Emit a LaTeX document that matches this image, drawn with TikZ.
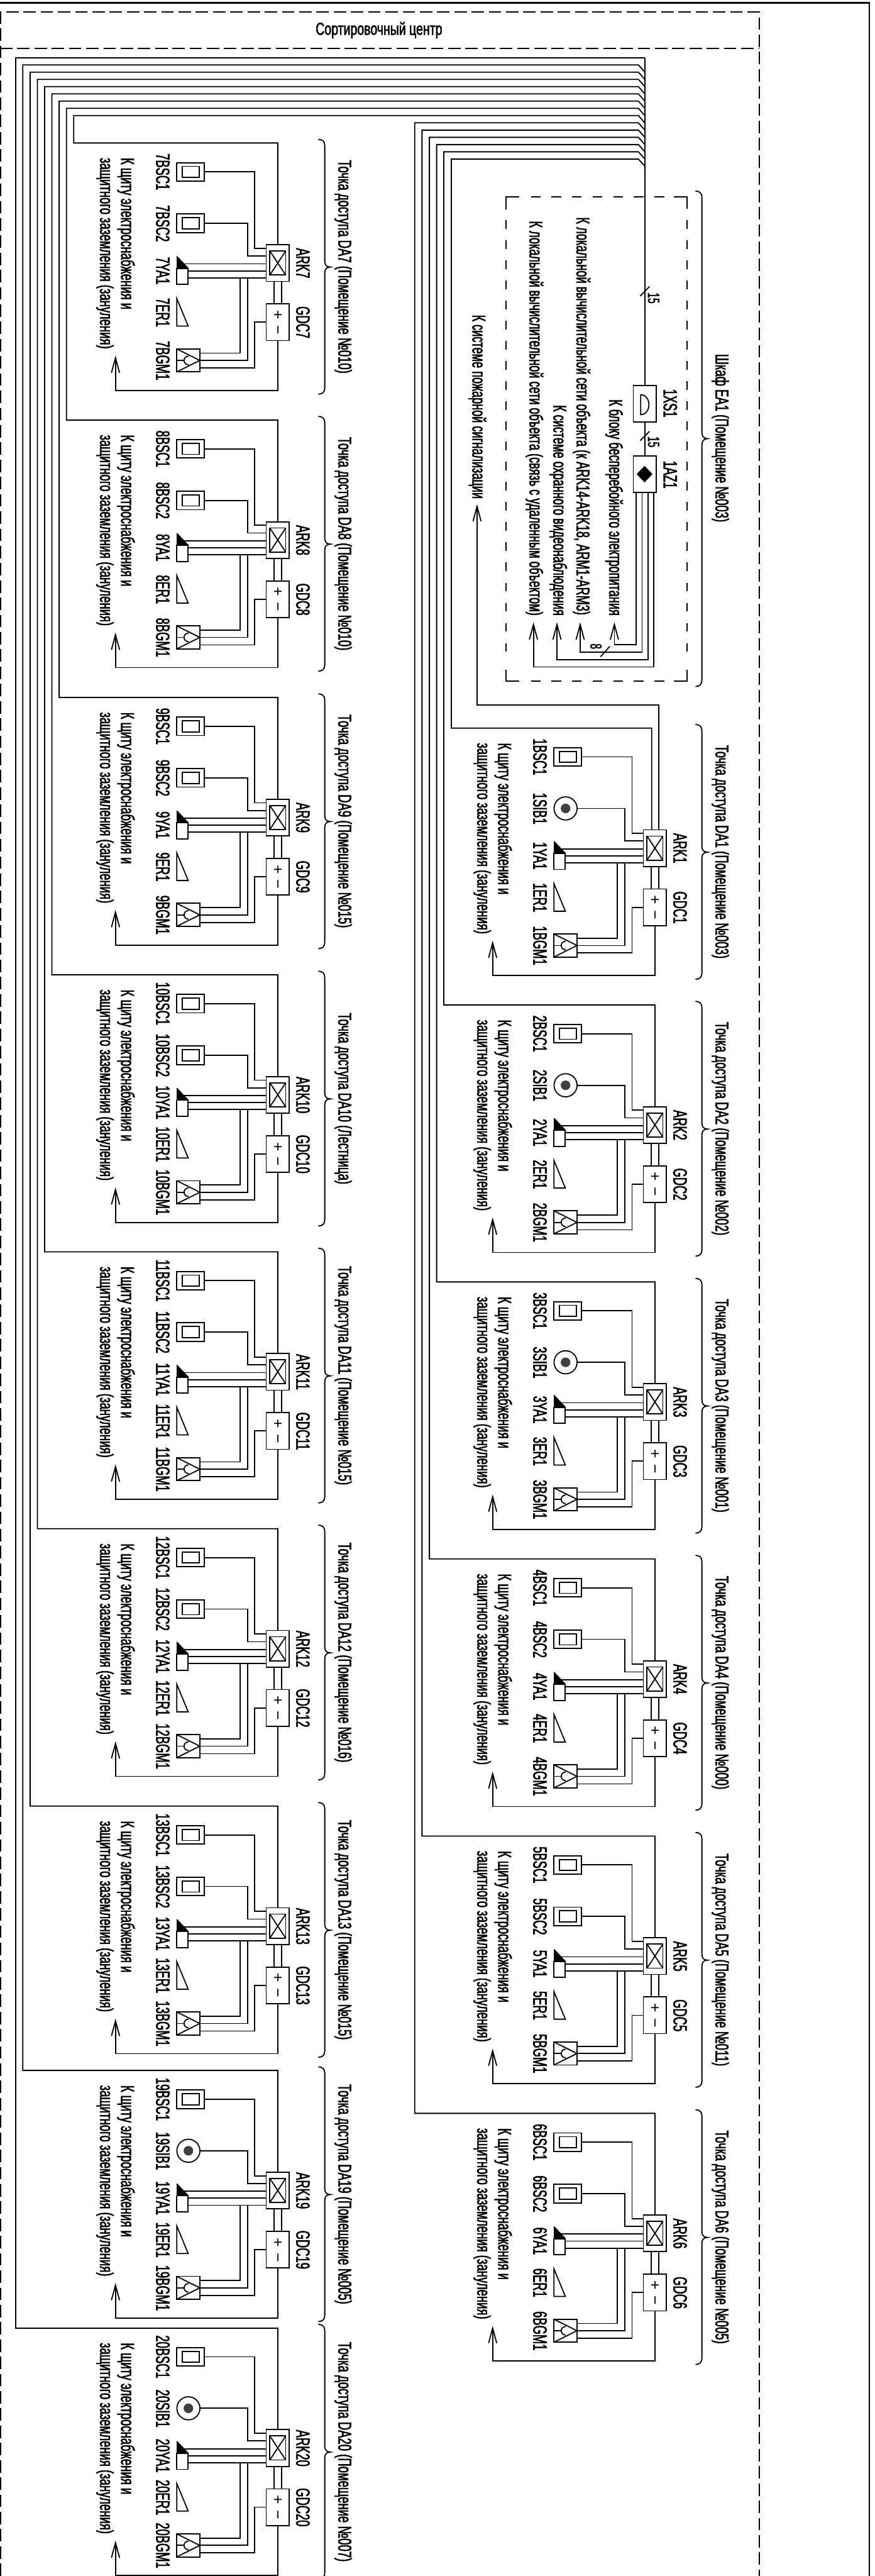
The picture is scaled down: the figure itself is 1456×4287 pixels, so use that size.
\documentclass[tikz,border=0pt]{standalone}
\usepackage{fontspec}
\setmainfont[FakeStretch=0.6,FakeBold=2]{Liberation Sans}
\newfontfamily\plainsans{Liberation Sans}
\newfontfamily\txtfam[FakeStretch=0.625,FakeBold=2]{Liberation Sans}
\newfontfamily\cabfam[FakeStretch=0.612,FakeBold=2]{Liberation Sans}
\newfontfamily\titlefam[FakeStretch=0.705,FakeBold=2]{Liberation Sans}
\usetikzlibrary{arrows.meta}
\newcommand\lblfont{\fontsize{32}{36}\selectfont}
\newcommand\txtfont{\txtfam\fontsize{31}{36}\selectfont}
\newcommand\cabfont{\cabfam\fontsize{31}{36}\selectfont}
\newcommand\signfont{\plainsans\fontsize{26}{30}\selectfont}
\tikzset{
  wire/.style={line width=1.9pt,line cap=butt,line join=miter},
  arrowwire/.style={wire,-{Straight Barb[length=25pt,width=13.5pt,line width=1.9pt]}},
  box/.style={draw,line width=1.9pt,rectangle,inner sep=0pt,outer sep=0pt},
  vlbl/.style={rotate=-90,anchor=base,inner sep=0pt,outer sep=0pt,font=\lblfont},
  vtxt/.style={rotate=-90,anchor=base west,inner sep=0pt,outer sep=0pt,font=\txtfont},
  vtxe/.style={rotate=-90,anchor=base east,inner sep=0pt,outer sep=0pt,font=\cabfont},
  sign/.style={rotate=-90,anchor=base,inner sep=0pt,outer sep=0pt,font=\signfont},
  frame/.style={line width=2.2pt},
  outerdash/.style={line width=2pt,dash pattern=on 20.7pt off 8pt},
  innerdash/.style={line width=1.9pt,dash pattern=on 16pt off 18.3pt},
  innerdashv/.style={line width=1.9pt,dash pattern=on 14pt off 19.5pt},
}
% #1 id, #2 number, #3 S (call point) or B (second contact), #4 dx, #5 wire y, #6 room
\newcommand\apblock[6]{%
\begin{scope}[shift={(#4,#5-238)}]
  \node[box,minimum width=38.4pt,minimum height=61pt] (#1ark) at (462.5,437.8) {};
  \node[box,minimum width=26.4pt,minimum height=40pt] (#1ari) at (462.5,437.7) {};
  \draw[wire] (#1ari.north west) -- (#1ari.south east) (#1ari.north east) -- (#1ari.south west);
  \node[box,minimum width=38.4pt,minimum height=61pt] (#1gdc) at (462.5,536.2) {};
  \node[sign] (#1plus) at (454,524) {+};
  \node[sign] (#1minus) at (454,549) {−};
  % ARK - GDC link
  \coordinate (#1la) at (456.7,468.3);
  \coordinate (#1lb) at (468.5,468.3);
  \draw[wire] (#1la) -- (#1la |- #1gdc.north);
  \draw[wire] (#1lb) -- (#1lb |- #1gdc.north);
  % ARK ports
  \coordinate (#1p1) at (443.3,413.3);
  \coordinate (#1p2) at (443.3,426);
  \coordinate (#1p3) at (443.3,439);
  \coordinate (#1p4) at (443.3,450.7);
  \coordinate (#1p5) at (443.3,462.3);
  % first contact
  \node[box,minimum width=45.7pt,minimum height=30.6pt] (#1bsa) at (317.2,286) {};
  \node[box,minimum width=28.4pt,minimum height=18.3pt] (#1bsai) at (317.5,286) {};
  \coordinate (#1b1) at (424.3,413.3);
  \draw[wire] (#1bsa.east) -| (#1b1) -- (#1p1);
  \node[vlbl] (#1lbsa) at (260,286) {#2BSC1};
  % second device
  \coordinate (#1b2) at (412.7,426);
  \if#3S
    \node[box,circle,minimum size=38.4pt] (#1sec) at (313.7,371.7) {};
    \node[circle,fill=black!75,inner sep=0pt,outer sep=0pt,minimum size=16pt] (#1seci) at (313.7,371.7) {};
    \draw[wire] (#1sec.east) -| (#1b2) -- (#1p2);
    \node[vlbl] (#1lsec) at (260,372) {#2SIB1};
  \else
    \node[box,minimum width=45.7pt,minimum height=31pt] (#1sec) at (317.2,371.7) {};
    \node[box,minimum width=28.4pt,minimum height=18.7pt] (#1seci) at (317.5,371.7) {};
    \draw[wire] (#1sec.east) -| (#1b2) -- (#1p2);
    \node[vlbl] (#1lsec) at (260,372) {#2BSC2};
  \fi
  % siren
  \node[box,minimum width=19pt,minimum height=26.6pt] (#1ya) at (303.8,460) {};
  \fill (294.3,426.7) -- (313.3,446.7) -- (294.3,446.7) -- cycle;
  \draw[wire] (294.3,426.7) -- (313.3,446.7);
  \coordinate (#1ya1) at (306,439);
  \draw[wire] (#1ya1) -- (#1p3);
  \draw[wire] (#1ya.east |- #1p4) -- (#1p4);
  \draw[wire] (#1ya.east |- #1p5) -- (#1p5);
  \node[vlbl] (#1lya) at (260,450.5) {#2YA1};
  % ER triangle
  \draw[wire] (294.3,496.7) -- (313.3,542.7) -- (294.3,542.7) -- cycle;
  \node[vlbl] (#1ler) at (260,520) {#2ER1};
  % camera
  \node[box,minimum width=38.4pt,minimum height=38.3pt] (#1bgm) at (313.5,599.8) {};
  \draw[wire] (#1bgm.north west) -- (#1bgm.east) -- (#1bgm.south west);
  \draw[wire] (#1bgm.west) -- (306,599.8);
  \draw[wire] (314,592.7) .. controls (304,592.7) and (304,606.9) .. (314,606.9);
  \node[vlbl] (#1lbgm) at (260,600) {#2BGM1};
  \coordinate (#1c1) at (400,462.3);
  \coordinate (#1d1) at (332.7,587.7);
  \coordinate (#1c2) at (412.7,462.3);
  \coordinate (#1d2) at (332.7,599.8);
  \coordinate (#1c3) at (424.3,612.3);
  \coordinate (#1d3) at (332.7,612.3);
  \draw[wire] (#1c1) |- (#1d1);
  \draw[wire] (#1c2) |- (#1d2);
  \draw[wire] (#1gdc.west) -| (#1c3) -- (#1d3);
  % mains
  \coordinate (#1gc) at (192.3,650);
  \coordinate (#1gt) at (192.3,591.7);
  \draw[arrowwire] (#1gdc.south) |- (#1gc) -- (#1gt);
  \node[vtxt] (#1t1) at (201.7,262.7) {К щиту электроснабжения и};
  \node[vtxt] (#1t2) at (166.7,262.7) {защитного заземления (зануления)};
  \node[vlbl] (#1lark) at (493.3,438) {ARK#2};
  \node[vlbl] (#1lgdc) at (493.3,536.5) {GDC#2};
  % brace
  \draw[wire] (530,232) .. controls (536,232) and (540.7,235) .. (540.7,242) -- (540.7,435) .. controls (540.7,441) and (544,444.5) .. (550,444.5) .. controls (544,444.5) and (540.7,448) .. (540.7,454) -- (540.7,646) .. controls (540.7,653) and (536,656) .. (530,656);
  \node[vlbl,font=\txtfont] (#1room) at (563.4,444) {Точка доступа DA#2 (#6)};
\end{scope}}
% #1 id, #2 bus y, #3 vertical x, #4 wire y
\newcommand\busline[4]{%
  \coordinate (#1j) at (1073.7,#2+12.05);
  \coordinate (#1k) at (1063,#2);
  \coordinate (#1m) at (#3,#2);
  \coordinate (#1n) at (#3,#4);
  \draw[wire] (#1j) -- (#1k) -- (#1m) -- (#1n) -| (#1ark.north);
}
\begin{document}
\begin{tikzpicture}[x=1pt,y=-1pt]
\useasboundingbox (0,0) rectangle (1456,4287);
\fill[white] (0,0) rectangle (1456,4287);
% frames
\draw[frame] (0,4.7) -- (1447.7,4.7) -- (1447.7,4287);
\draw[outerdash] (1,4287) -- (1,20) -- (1264.3,20) -- (1264.3,4287);
\draw[outerdash] (0,81) -- (1264.3,81);
\node[font=\titlefam\fontsize{29}{32}\selectfont,anchor=base,inner sep=0pt] (title) at (631,58) {Сортировочный центр};
% left column
\apblock{a}{7}{B}{0}{238}{Помещение №010}
\apblock{b}{8}{B}{0}{699}{Помещение №010}
\apblock{c}{9}{B}{0}{1160.7}{Помещение №015}
\apblock{d}{10}{B}{0}{1622.3}{Лестница}
\apblock{e}{11}{B}{0}{2083.2}{Помещение №015}
\apblock{f}{12}{B}{0}{2544.1}{Помещение №016}
\apblock{g}{13}{B}{0}{3005.7}{Помещение №015}
\apblock{h}{19}{S}{0}{3445.6}{Помещение №005}
\apblock{i}{20}{S}{0}{3874.2}{Помещение №007}
% right column
\apblock{m}{1}{S}{628}{1211.7}{Помещение №003}
\apblock{n}{2}{S}{628}{1672.4}{Помещение №002}
\apblock{o}{3}{S}{628}{2133.4}{Помещение №001}
\apblock{p}{4}{B}{628}{2594.4}{Помещение №000}
\apblock{q}{5}{B}{628}{3055.6}{Помещение №011}
\apblock{r}{6}{B}{628}{3517}{Помещение №005}
% cabinet
\draw[wire] (842.3,349) -- (842.3,327.3) -- (864.5,327.3);
\draw[wire] (1122,327.3) -- (1144.3,327.3) -- (1144.3,347);
\draw[wire] (842.3,1115) -- (842.3,1133.3) -- (864.5,1133.3);
\draw[wire] (1122,1133.3) -- (1144.3,1133.3) -- (1144.3,1115);
\draw[innerdash] (884,327.3) -- (1115,327.3);
\draw[innerdash] (884,1133.3) -- (1115,1133.3);
\draw[innerdashv] (842.3,366.7) -- (842.3,1100);
\draw[innerdashv] (1144.3,366.7) -- (1144.3,1100);
\draw[wire] (1158,318) .. controls (1164,318) and (1168.7,321) .. (1168.7,328) -- (1168.7,720) .. controls (1168.7,726) and (1172,730) .. (1178,730) .. controls (1172,730) and (1168.7,734) .. (1168.7,740) -- (1168.7,1132) .. controls (1168.7,1139) and (1164,1142.5) .. (1158,1142.5);
\node[vlbl,font=\txtfont] (ea) at (1191.4,729) {Шкаф EA1 (Помещение №003)};
% connectors
\node[box,minimum width=38.6pt,minimum height=60.5pt] (xs) at (1073.7,672) {};
\node[box,minimum width=38.6pt,minimum height=61pt] (az) at (1073.7,789) {};
\draw[wire] (1066.7,657) -- (1066.7,690) .. controls (1085,690) and (1085,657) .. (1066.7,657) -- cycle;
\fill (1073.2,775.3) -- (1086.4,789) -- (1073.2,802.7) -- (1060,789) -- cycle;
\node[vlbl] (lxs) at (1105,671) {1XS1};
\node[vlbl] (laz) at (1105,790) {1AZ1};
\coordinate (bus) at (1073.7,96);
\draw[wire] (bus) -- (xs.north);
\draw[wire] (xs.south) -- (az.north);
\coordinate (ta) at (1081.5,476.7); \coordinate (tb) at (1066,492.7);
\draw[wire] (ta) -- (tb);
\node[vlbl,font=\fontsize{27}{30}\selectfont] (n15a) at (1079,496) {15};
\coordinate (tc) at (1081.5,717.8); \coordinate (td) at (1066,733.3);
\draw[wire] (tc) -- (td);
\node[vlbl,font=\fontsize{27}{30}\selectfont] (n15b) at (1079,735.4) {15};
% top bus to access points
\coordinate (wa) at (26,96); \coordinate (wb) at (26,3874.2);
\draw[wire] (bus) -- (wa) -- (wb) -| (iark.north);
\busline{h}{108.05}{38}{3445.6}
\busline{g}{120.1}{50.1}{3005.7}
\busline{f}{132.15}{62.2}{2544.1}
\busline{e}{144.2}{74.3}{2083.2}
\busline{d}{156.25}{86.4}{1622.3}
\busline{c}{168.3}{98.5}{1160.7}
\busline{b}{180.35}{110.6}{699}
\busline{a}{192.4}{122.7}{238}
\busline{r}{204.45}{690.5}{3517}
\busline{q}{216.5}{702.7}{3055.6}
\busline{p}{228.55}{715}{2594.4}
\busline{o}{240.6}{727}{2133.4}
\busline{n}{252.65}{739}{1672.4}
% DA1 has two lines on top of ARK1
\coordinate (mj) at (1073.7,276.75);
\coordinate (mk) at (1063,264.7);
\coordinate (mm) at (751.4,264.7);
\coordinate (mn) at (751.4,1211.7);
\coordinate (ma) at (1085,1380.7);
\draw[wire] (mj) -- (mk) -- (mm) -- (mn) -| (ma);
\coordinate (fa) at (1096.7,1380.7);
\coordinate (fb) at (794.3,1173.5);
\coordinate (ft) at (794.3,839);
\draw[arrowwire] (fa) |- (fb) -- (ft);
% cabinet outputs
\coordinate (oa) at (1059.5,819.6); \coordinate (oat) at (1023,1035.6);
\coordinate (ob) at (1069.2,819.6); \coordinate (obt) at (966,1035.6);
\coordinate (oc) at (1079.3,819.6); \coordinate (oct) at (927.4,1035.6);
\coordinate (od) at (1088.9,819.6); \coordinate (odt) at (888.2,1035.6);
\coordinate (oac) at (1023,1072.8);
\coordinate (obc) at (966,1085.4);
\coordinate (occ) at (927.4,1097.7);
\coordinate (odc) at (888.2,1110);
\draw[arrowwire] (oa) |- (oac) -- (oat);
\draw[arrowwire] (ob) |- (obc) -- (obt);
\draw[arrowwire] (oc) |- (occ) -- (oct);
\draw[arrowwire] (od) |- (odc) -- (odt);
\coordinate (te) at (1015.3,1075.6); \coordinate (tf) at (1000,1093);
\draw[wire] (te) -- (tf);
\node[vlbl,font=\fontsize{27}{30}\selectfont] (n8) at (983,1075.6) {8};
\node[vtxe] (t1) at (1014.3,1024.4) {К блоку бесперебойного электропитания};
\node[vtxe] (t2) at (960,1023.5) {К локальной вычислительной сети объекта (к ARK14-ARK18, ARM1-ARM3)};
\node[vtxe] (t3) at (921.4,1024.4) {К системе охранного видеонаблюдения};
\node[vtxe] (t4) at (881.7,1024.4) {К локальной вычислительной сети объекта (связь с удаленным объектом)};
\node[vtxe] (t5) at (786.7,830) {К системе пожарной сигнализации};
\end{tikzpicture}
\end{document}
